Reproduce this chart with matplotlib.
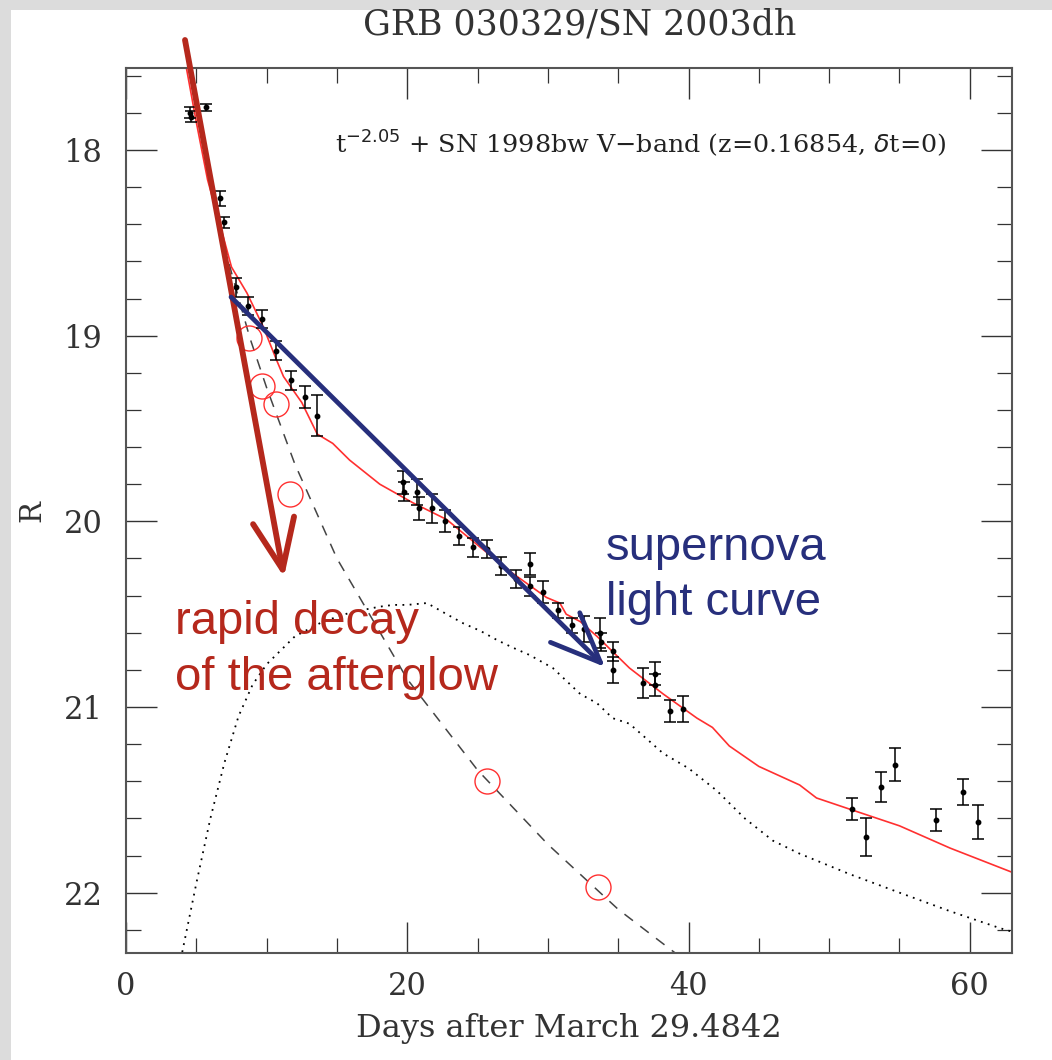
import matplotlib
matplotlib.use("Agg")
import matplotlib.pyplot as plt
from matplotlib.patches import Rectangle, FancyArrowPatch
from matplotlib.ticker import MultipleLocator

# ---------------- data ----------------
obs_t = [4.55, 4.62, 5.7, 6.7, 6.95, 7.8, 8.7, 9.7, 10.7, 11.7, 12.75, 13.6,
         19.7, 19.75, 20.7, 20.8, 21.75, 22.7, 23.7, 24.7, 25.65, 26.7, 27.7,
         28.7, 28.75, 29.65, 30.7, 31.7, 32.6, 33.7, 33.75, 34.6, 34.65,
         36.75, 37.6, 37.65, 38.7, 39.6,
         51.65, 52.65, 53.65, 54.65, 57.6, 59.55, 60.6]
obs_R = [17.80, 17.82, 17.77, 18.26, 18.39, 18.74, 18.84, 18.91, 19.08, 19.24, 19.33, 19.43,
         19.79, 19.84, 19.84, 19.93, 19.93, 20.00, 20.08, 20.14, 20.15, 20.24, 20.31,
         20.23, 20.35, 20.38, 20.48, 20.56, 20.58, 20.60, 20.65, 20.70, 20.80,
         20.87, 20.82, 20.88, 21.02, 21.01,
         21.55, 21.70, 21.43, 21.31, 21.61, 21.46, 21.62]
obs_err = [0.03, 0.03, 0.02, 0.04, 0.03, 0.05, 0.05, 0.05, 0.05, 0.05, 0.06, 0.11,
           0.06, 0.05, 0.07, 0.06, 0.08, 0.06, 0.05, 0.05, 0.05, 0.05, 0.05,
           0.06, 0.05, 0.06, 0.04, 0.04, 0.07, 0.08, 0.05, 0.05, 0.07,
           0.08, 0.06, 0.06, 0.06, 0.07,
           0.06, 0.10, 0.08, 0.09, 0.06, 0.07, 0.09]

# afterglow-only points (open circles)
ag_t = [8.75, 9.7, 10.7, 11.65, 25.7, 33.55]
ag_R = [19.01, 19.27, 19.37, 19.85, 21.40, 21.97]

# power-law afterglow model (dashed)
pl_t = [7.0, 7.5, 8.8, 10.0, 12.0, 15.0, 20.0, 25.0, 30.0, 35.0, 40.0]
pl_R = [18.51, 18.66, 19.01, 19.28, 19.69, 20.20, 20.85, 21.34, 21.74, 22.09, 22.38]

# SN 1998bw template (dotted)
sn_t = [4.0, 5.0, 6.0, 7.0, 8.0, 9.0, 10.0, 12.0, 14.0, 16.0, 18.0, 19.0, 20.0, 21.4,
        22.8, 24.0, 25.2, 26.4, 27.5, 28.7, 30.35, 32.3, 33.5, 34.6, 35.8, 38.2,
        40.0, 42.0, 44.0, 46.0, 47.9, 51.45, 55.0, 58.6, 62.1, 63.0]
sn_R = [22.32, 21.95, 21.60, 21.30, 21.05, 20.88, 20.77, 20.62, 20.54, 20.49, 20.46, 20.45,
        20.45, 20.44, 20.50, 20.55, 20.59, 20.64, 20.68, 20.72, 20.79, 20.93, 20.98,
        21.06, 21.09, 21.25, 21.33, 21.45, 21.60, 21.72, 21.79, 21.90, 22.00, 22.10,
        22.19, 22.21]

# combined model (red)
mod_t = [4.3, 5.0, 5.8, 6.45, 7.0, 7.5, 8.6, 9.75, 10.7, 11.2, 12.5, 13.6, 14.7, 15.9,
         18.05, 20.4, 22.8, 25.2, 27.5, 29.9, 30.85, 31.3, 32.3, 33.5, 35.8, 38.2,
         40.6, 41.7, 42.9, 45.0, 47.9, 49.1, 51.45, 55.0, 58.6, 63.0]
mod_R = [17.56, 17.85, 18.16, 18.34, 18.49, 18.63, 18.77, 18.95, 19.13, 19.22, 19.36, 19.53,
         19.58, 19.67, 19.80, 19.90, 19.99, 20.14, 20.28, 20.41, 20.44, 20.50, 20.54,
         20.62, 20.79, 20.93, 21.06, 21.11, 21.21, 21.32, 21.42, 21.49, 21.55, 21.64,
         21.76, 21.89]

title = "GRB 030329/SN 2003dh"
model_label = r"t$^{-2.05}$ + SN 1998bw V$-$band (z=0.16854, $\delta$t=0)"
xlabel = "Days after March 29.4842"
ylabel = "R"

# ---------------- figure ----------------
W, H = 1052, 1060
fig = plt.figure(figsize=(W / 100, H / 100), dpi=100, facecolor="#dcdcdc")
fig.patches.append(Rectangle((11 / W, 0), 1, 1 - 10 / H, transform=fig.transFigure,
                             facecolor="white", edgecolor="none", zorder=-5))

ax = fig.add_axes([126 / W, 1 - 953 / H, (1012 - 126) / W, (953 - 68) / H])
ax.set_facecolor("white")
ax.set_xlim(0, 63.0)
ax.set_ylim(22.325, 17.558)

serif = "DejaVu Serif"
ax.plot(sn_t, sn_R, linestyle=(0, (1, 3)), color="black", lw=1.3)
ax.plot(pl_t, pl_R, linestyle=(0, (7, 6)), color="#444444", lw=1.1)
ax.plot(mod_t, mod_R, color="#ff3030", lw=1.2)
ax.plot(ag_t, ag_R, "o", mfc="none", mec="#ff3030", ms=18, mew=1.0)
ax.errorbar(obs_t, obs_R, yerr=obs_err, fmt="o", color="black", ms=3.2,
            elinewidth=1.1, capsize=4, capthick=1.1)

ax.text(0.236, 0.915, model_label, transform=ax.transAxes, fontsize=18.3,
        family=serif, color="#222222", ha="left", va="center")

ax.xaxis.set_major_locator(MultipleLocator(20))
ax.xaxis.set_minor_locator(MultipleLocator(5))
ax.yaxis.set_major_locator(MultipleLocator(1))
ax.yaxis.set_minor_locator(MultipleLocator(0.2))
ax.tick_params(which="both", direction="in", top=True, right=True, color="#333333")
ax.tick_params(which="major", length=22, width=1.0, labelsize=22, pad=13)
ax.tick_params(which="minor", length=11, width=0.9)
for lab in ax.get_xticklabels() + ax.get_yticklabels():
    lab.set_family(serif)
    lab.set_color("#333333")
ax.tick_params(axis="y", pad=17)
for s in ax.spines.values():
    s.set_color("#555555")
    s.set_linewidth(1.5)

ax.set_xlabel(xlabel, family=serif, fontsize=23, color="#333333", labelpad=8)
ax.set_ylabel(ylabel, family=serif, fontsize=21, color="#333333", labelpad=12)
fig.text(580 / W, 1 - 24 / H, title, family=serif, fontsize=25, color="#333333",
         ha="center", va="center")

# ---------------- overlay arrows / annotations ----------------
def px(x, y):
    return (x / W, 1 - y / H)

red = "#b5281c"
navy = "#272f7c"
a1 = FancyArrowPatch(px(185, 40), px(284, 577), transform=fig.transFigure,
                     arrowstyle="->,head_length=12,head_width=5", color=red, lw=4.2,
                     mutation_scale=3, shrinkA=0, shrinkB=0, zorder=6)
fig.patches.append(a1)
a2 = FancyArrowPatch(px(231, 297), px(605, 667), transform=fig.transFigure,
                     arrowstyle="->,head_length=12,head_width=5", color=navy, lw=3.4,
                     mutation_scale=3, shrinkA=0, shrinkB=0, zorder=6)
fig.patches.append(a2)

fs_ann = 34
fig.text(175 / W, 1 - 622 / H, "rapid decay", family="Liberation Sans", fontsize=fs_ann,
         color=red, ha="left", va="center", zorder=7)
fig.text(175 / W, 1 - 678 / H, "of the afterglow", family="Liberation Sans", fontsize=fs_ann,
         color=red, ha="left", va="center", zorder=7)
fig.text(606 / W, 1 - 548 / H, "supernova", family="Liberation Sans", fontsize=fs_ann,
         color=navy, ha="left", va="center", zorder=7)
fig.text(606 / W, 1 - 603 / H, "light curve", family="Liberation Sans", fontsize=fs_ann,
         color=navy, ha="left", va="center", zorder=7)

fig.savefig("out.png", dpi=100, facecolor=fig.get_facecolor())
